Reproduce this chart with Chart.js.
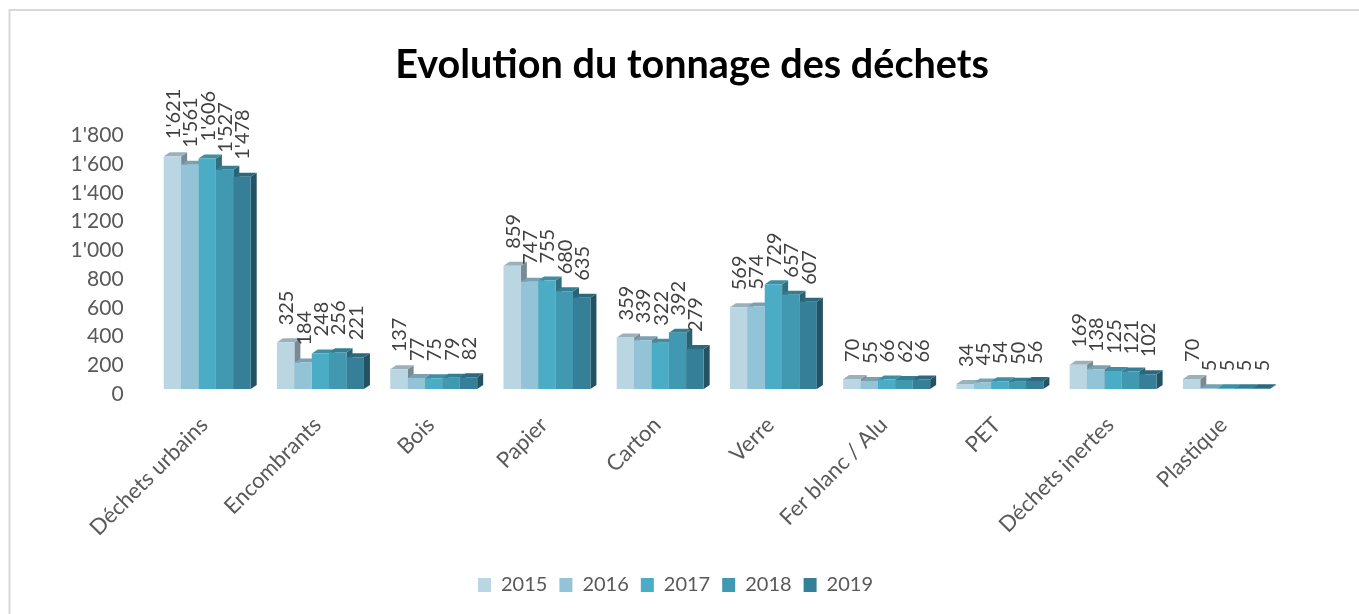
<!DOCTYPE html>
<html><head><meta charset="utf-8">
<style>html,body{margin:0;padding:0;background:#fff}#w{position:relative;width:1359px;height:614px}</style>
<script src="https://cdn.jsdelivr.net/npm/chart.js@4"></script></head>
<body><div id="w"><canvas id="c" width="1359" height="614"></canvas></div>
<script>
const categories = ["Déchets urbains","Encombrants","Bois","Papier","Carton","Verre","Fer blanc / Alu","PET","Déchets inertes","Plastique"];
const years = ["2015","2016","2017","2018","2019"];
const v2015 = [1621,325,137,859,359,569,70,34,169,70];
const v2016 = [1561,184,77,747,339,574,55,45,138,5];
const v2017 = [1606,248,75,755,322,729,66,54,125,5];
const v2018 = [1527,256,79,680,392,657,62,50,121,5];
const v2019 = [1478,221,82,635,279,607,66,56,102,5];
const seriesValues = [v2015,v2016,v2017,v2018,v2019];
const colors = ["#BAD6E3","#92C3D6","#4BACC6","#4098B1","#367F98"];
const FONT = "Lato";
const fmt = n => String(n).replace(/\B(?=(\d{3})+$)/g,"'");
function shade(hex,f){const n=parseInt(hex.slice(1),16);return `rgb(${((n>>16)&255)*f|0},${((n>>8)&255)*f|0},${(n&255)*f|0})`;}
const DX=6, DY=4;
const depth3d={id:'depth3d',
 beforeDatasetsDraw(chart){
  const ctx=chart.ctx,base=chart.scales.y.getPixelForValue(0);
  ctx.save();
  categories.forEach((_,i)=>{
   seriesValues.forEach((_,d)=>{
    const el=chart.getDatasetMeta(d).data[i];
    const l=el.x-el.width/2,r=el.x+el.width/2,t=el.y;
    ctx.fillStyle=shade(colors[d],.65);
    ctx.beginPath();ctx.moveTo(r,t);ctx.lineTo(r+DX,t-DY);ctx.lineTo(r+DX,base-DY);ctx.lineTo(r,base);ctx.closePath();ctx.fill();
    ctx.fillStyle=shade(colors[d],.83);
    ctx.beginPath();ctx.moveTo(l,t);ctx.lineTo(l+DX,t-DY);ctx.lineTo(r+DX,t-DY);ctx.lineTo(r,t);ctx.closePath();ctx.fill();
   });
  });
  ctx.restore();
 },
 afterDatasetsDraw(chart){
  const ctx=chart.ctx;
  ctx.save();ctx.fillStyle="#404040";ctx.font=`20px ${FONT}`;ctx.textAlign="left";ctx.textBaseline="middle";
  seriesValues.forEach((vals,d)=>{
   chart.getDatasetMeta(d).data.forEach((el,i)=>{
    ctx.save();ctx.translate(el.x+1,el.y-17);ctx.rotate(-Math.PI/2);ctx.fillText(fmt(vals[i]),0,0);ctx.restore();
   });
  });
  ctx.restore();
 }};
const frame={id:'frame',
 beforeDraw(chart){const c=chart.ctx;c.save();c.strokeStyle="#d9d9d9";c.lineWidth=2;c.beginPath();c.moveTo(9.5,614);c.lineTo(9.5,10);c.lineTo(1359,10);c.stroke();c.restore();},
 afterLayout(chart){
  const t=chart.titleBlock;t.left=25;t.right=1359;t.top=41;t.bottom=89;
  const g=chart.legend;const h=g.bottom-g.top;g.left=484-300;g.right=861+306;g.top=563;g.bottom=563+h;
 }};
new Chart(document.getElementById('c'),{
 type:'bar',
 data:{labels:categories,datasets:years.map((y,d)=>({label:y,data:seriesValues[d],backgroundColor:colors[d],borderWidth:0,categoryPercentage:.768,barPercentage:1}))},
 options:{
  responsive:false,animation:false,
  layout:{padding:{left:0,right:76,top:83,bottom:0}},
  plugins:{
   title:{display:true,text:"Evolution du tonnage des déchets",color:"#000",font:{family:FONT,size:39.6,weight:'bold'},padding:{top:0,bottom:0}},
   legend:{position:'bottom',labels:{boxWidth:13,boxHeight:14,padding:12,color:"#595959",font:{family:FONT,size:20}}},
   tooltip:{enabled:false}
  },
  scales:{
   x:{grid:{display:false,drawTicks:false},border:{display:false},
      ticks:{color:"#595959",font:{family:FONT,size:22},minRotation:45,maxRotation:45,padding:23,labelOffset:-3,autoSkip:false},
      afterFit(s){s.height=183;s.paddingLeft=0;s.paddingRight=0;}},
   y:{min:0,max:1800,grid:{display:false,drawTicks:false},border:{display:false},
      ticks:{stepSize:200,color:"#595959",font:{family:FONT,size:21},padding:27,labelOffset:5,callback:v=>fmt(v)},
      afterFit(s){s.width=150.6;s.paddingTop=0;s.paddingBottom=0;}}
  }
 },
 plugins:[depth3d,frame]
});
</script></body></html>
